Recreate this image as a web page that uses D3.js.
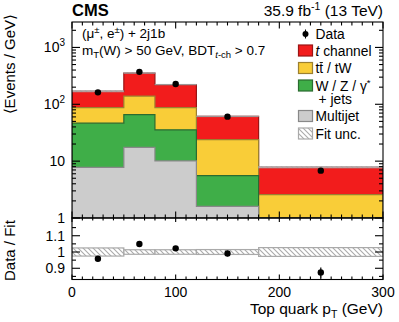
<!DOCTYPE html>
<html><head><meta charset="utf-8">
<script src="https://cdn.jsdelivr.net/npm/d3@7"></script>
<style>body{margin:0;background:#fff}svg{display:block;font-family:"Liberation Sans",Arial,sans-serif}</style>
</head><body>
<svg id="c" width="399" height="322"></svg>
<script>
// ---- data ----
const binEdges = [0, 50, 80, 120, 180, 300];
const tChannel = [82, 215, 135, 37.2, 5.2];
const ttbar    = [40.4, 74, 51.4, 18.4, 1.78];
const wzJets   = [38.8, 48.2, 25.5, 3.97, 0.5];
const multijet = [7.8, 17.4, 10.1, 1.6, 0.3];
const dataX    = [25, 65, 100, 150, 240];
const dataY    = [162, 372, 227, 60.6, 6.8];
const fitUnc   = [0.025, 0.014, 0.014, 0.015, 0.027];
const xTicks   = [0, 100, 200, 300];
const ratioTicks = [0.9, 1, 1.1];

const svg = d3.select("#c");
const L = 72, R = 383, T = 22, B = 218, RB = 279.5;
const x = d3.scaleLinear([0, 300], [L, R]);
const y = d3.scaleLog([1, 2800], [B, T]).clamp(true);
const yr = d3.scaleLinear([0.831, 1.209], [RB, B]);

const defs = svg.append("defs");
const pat = defs.append("pattern").attr("id","hatch").attr("patternUnits","userSpaceOnUse")
  .attr("width",5).attr("height",5);
pat.append("rect").attr("width",5).attr("height",5).attr("fill","#fff").attr("fill-opacity",0.6);
pat.append("path").attr("d","M-1,-1 L6,6 M-1,4 L1,6 M4,-1 L6,1").attr("stroke","#aaa").attr("stroke-width",1.1);
defs.append("clipPath").attr("id","cm").append("rect").attr("x",L).attr("y",T).attr("width",R-L).attr("height",B-T);
defs.append("clipPath").attr("id","cr").append("rect").attr("x",L).attr("y",B).attr("width",R-L).attr("height",RB-B);

// cumulative stacks
const cumMJ = multijet.slice();
const cumW = cumMJ.map((v,i)=>v+wzJets[i]);
const cumTT = cumW.map((v,i)=>v+ttbar[i]);
const total = cumTT.map((v,i)=>v+tChannel[i]);

function stepPts(vals){
  const pts=[];
  vals.forEach((v,i)=>{pts.push([binEdges[i],v]);pts.push([binEdges[i+1],v]);});
  return pts;
}
const area = d3.area().x(d=>x(d[0])).y0(y(1)).y1(d=>y(d[1]));
const gm = svg.append("g").attr("clip-path","url(#cm)");
const layers = [
  {vals: total, fill:"#f21c1c", stroke:"#9a1515"},
  {vals: cumTT, fill:"#f9cd38", stroke:"#9c8030"},
  {vals: cumW,  fill:"#3fae48", stroke:"#2b6b30"},
  {vals: cumMJ, fill:"#cccccc", stroke:"#888888"}
];
layers.forEach(l=>{
  gm.append("path").attr("d", area(stepPts(l.vals))).attr("fill",l.fill)
    .attr("stroke",l.stroke).attr("stroke-width",1.2);
});
// fit unc band in main panel
total.forEach((v,i)=>{
  gm.append("rect").attr("x",x(binEdges[i])).attr("width",x(binEdges[i+1])-x(binEdges[i]))
    .attr("y",y(v*(1+fitUnc[i]))).attr("height",y(v*(1-fitUnc[i]))-y(v*(1+fitUnc[i])))
    .attr("fill","url(#hatch)").attr("stroke","#999").attr("stroke-width",0.6);
});
// data main
dataY.forEach((v,i)=>{
  const w = binEdges[i+1]-binEdges[i];
  const e = Math.sqrt(v*w)/w;
  gm.append("line").attr("x1",x(dataX[i])).attr("x2",x(dataX[i]))
    .attr("y1",y(v+e)).attr("y2",y(v-e)).attr("stroke","#000").attr("stroke-width",1.2);
  gm.append("circle").attr("cx",x(dataX[i])).attr("cy",y(v)).attr("r",3.2).attr("fill","#000");
});

// ratio panel
const gr = svg.append("g").attr("clip-path","url(#cr)");
fitUnc.forEach((u,i)=>{
  gr.append("rect").attr("x",x(binEdges[i])).attr("width",x(binEdges[i+1])-x(binEdges[i]))
    .attr("y",yr(1+u)).attr("height",yr(1-u)-yr(1+u))
    .attr("fill","url(#hatch)").attr("stroke","#aaa").attr("stroke-width",1.2);
});
dataY.forEach((v,i)=>{
  const w = binEdges[i+1]-binEdges[i];
  const e = Math.sqrt(v*w)/w;
  const r = v/total[i], er = e/total[i];
  gr.append("line").attr("x1",x(dataX[i])).attr("x2",x(dataX[i]))
    .attr("y1",yr(r+er)).attr("y2",yr(r-er)).attr("stroke","#000").attr("stroke-width",1.2);
  gr.append("circle").attr("cx",x(dataX[i])).attr("cy",yr(r)).attr("r",3.2).attr("fill","#000");
});

// frames
const ax = svg.append("g").attr("stroke","#000").attr("stroke-width",1.1).attr("fill","none");
ax.append("rect").attr("x",L).attr("y",T).attr("width",R-L).attr("height",B-T);
ax.append("rect").attr("x",L).attr("y",B).attr("width",R-L).attr("height",RB-B);
function tick(x1,y1,x2,y2){ax.append("line").attr("x1",x1).attr("y1",y1).attr("x2",x2).attr("y2",y2);}
for(let v=0; v<=300; v+=10){
  const maj = v%100===0, px=x(v);
  const lm = maj?6.5:3.5, lr = maj?5:3;
  tick(px,B,px,B-lm); tick(px,T,px,T+lm);
  tick(px,RB,px,RB-lr); tick(px,B,px,B+lr*0.8);
}
for(let d=1; d<=1000; d*=10){
  for(let k=1;k<=9;k++){
    const v=d*k; if(v>2800) break;
    const py=y(v), l = k===1?8:4;
    tick(L,py,L+l,py); tick(R,py,R-l,py);
  }
}
for(let v=0.85; v<=1.2; v+=0.05){
  const vv = Math.round(v*100)/100;
  const maj = Math.abs(Math.round(vv*10)-vv*10)<1e-6;
  const l = maj?8:4, py=yr(vv);
  tick(L,py,L+l,py); tick(R,py,R-l,py);
}

// tick labels
const tl = svg.append("g").attr("font-size",14).attr("fill","#000");
xTicks.forEach(v=>tl.append("text").attr("x",x(v)).attr("y",297).attr("text-anchor","middle").text(v));
[1,10,100,1000].forEach(v=>{
  const t = tl.append("text").attr("x",65).attr("y",y(v)+5).attr("text-anchor","end");
  if(v<100) t.text(v);
  else { t.append("tspan").text("10"); t.append("tspan").attr("dy",-6).attr("font-size",10).text(Math.log10(v)); }
});
ratioTicks.forEach(v=>tl.append("text").attr("x",65).attr("y",yr(v)+5).attr("text-anchor","end").text(v));

// axis titles
svg.append("text").attr("transform","translate(15,14) rotate(-90)").attr("text-anchor","end")
  .attr("font-size",15).text("\u27E8Events / GeV\u27E9");
svg.append("text").attr("transform","translate(15,281) rotate(-90)").attr("text-anchor","start")
  .attr("font-size",15).text("Data / Fit");
const xt = svg.append("text").attr("x",R).attr("y",314).attr("text-anchor","end").attr("font-size",15.5);
xt.append("tspan").text("Top quark p");
xt.append("tspan").attr("font-size",10.5).attr("dy",3.5).text("T");
xt.append("tspan").attr("dy",-3.5).text(" (GeV)");

// header
svg.append("text").attr("x",L).attr("y",15.5).attr("font-size",16.5).attr("font-weight","bold").text("CMS");
const lum = svg.append("text").attr("x",R).attr("y",16).attr("text-anchor","end").attr("font-size",15.5);
lum.append("tspan").text("35.9 fb");
lum.append("tspan").attr("font-size",10.5).attr("dy",-6).text("-1");
lum.append("tspan").attr("dy",6).text(" (13 TeV)");

// selection text
const s1 = svg.append("text").attr("x",82).attr("y",38).attr("font-size",13.5);
s1.append("tspan").text("(\u03BC");
s1.append("tspan").attr("font-size",9.5).attr("dy",-5).text("\u00B1");
s1.append("tspan").attr("dy",5).text(", e");
s1.append("tspan").attr("font-size",9.5).attr("dy",-5).text("\u00B1");
s1.append("tspan").attr("dy",5).text(") + 2j1b");
const s2 = svg.append("text").attr("x",82).attr("y",55).attr("font-size",13.5);
s2.append("tspan").text("m");
s2.append("tspan").attr("font-size",9.5).attr("dy",3).text("T");
s2.append("tspan").attr("dy",-3).text("(W) > 50 GeV, BDT");
s2.append("tspan").attr("font-size",9.5).attr("dy",3).attr("font-style","italic").text("t");
s2.append("tspan").attr("font-size",9.5).text("-ch");
s2.append("tspan").attr("dy",-3).text(" > 0.7");

// legend
const lg = svg.append("g").attr("font-size",13.8);
const bx = 298.5, bw = 14, bh = 11, tx = 315.5;
function box(cy, fill, stroke){
  lg.append("rect").attr("x",bx).attr("y",cy-bh/2).attr("width",bw).attr("height",bh)
    .attr("fill",fill).attr("stroke",stroke).attr("stroke-width",1.2);
}
lg.append("circle").attr("cx",bx+bw/2).attr("cy",34).attr("r",3).attr("fill","#000");
lg.append("line").attr("x1",bx+bw/2).attr("x2",bx+bw/2).attr("y1",29.5).attr("y2",38.5).attr("stroke","#000").attr("stroke-width",1.1);
lg.append("text").attr("x",tx).attr("y",39).text("Data");
box(50.5,"#f21c1c","#9a1515");
const t1 = lg.append("text").attr("x",tx).attr("y",55.5);
t1.append("tspan").attr("font-style","italic").text("t");
t1.append("tspan").text(" channel");
box(68,"#f9cd38","#9c8030");
const t2 = lg.append("text").attr("x",tx).attr("y",73).text("tt / tW");
box(85.5,"#3fae48","#2b6b30");
const t3 = lg.append("text").attr("x",tx).attr("y",90.5);
t3.append("tspan").text("W / Z / \u03B3");
t3.append("tspan").attr("font-size",9.5).attr("dy",-5).text("*");
lg.append("text").attr("x",tx+3).attr("y",104).text("+ jets");
box(116,"#cccccc","#888888");
lg.append("text").attr("x",tx).attr("y",121).text("Multijet");
box(133.5,"url(#hatch)","#aaa");
lg.append("text").attr("x",tx).attr("y",138.5).text("Fit unc.");
try{
  const ext = t2.node().getExtentOfChar(1);
  lg.append("line").attr("x1",ext.x+0.3).attr("x2",ext.x+ext.width-0.3)
    .attr("y1",ext.y+1.5).attr("y2",ext.y+1.5).attr("stroke","#000").attr("stroke-width",0.9);
}catch(e){}
</script>
</body></html>
